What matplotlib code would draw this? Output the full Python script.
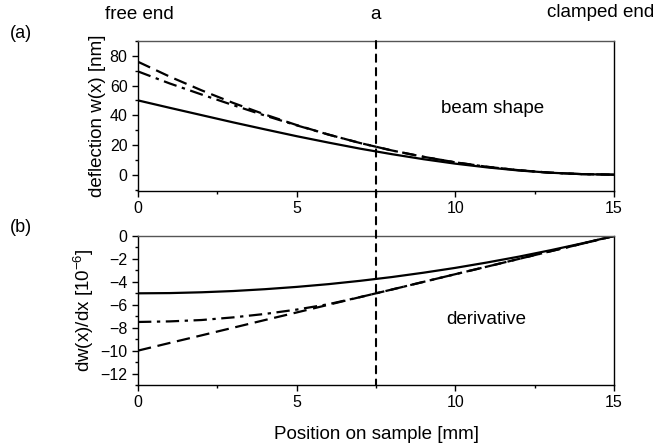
import matplotlib
matplotlib.use("Agg")
import matplotlib.pyplot as plt
from matplotlib.patches import ConnectionPatch
from matplotlib.ticker import MultipleLocator

plt.rcParams['font.family'] = ['Liberation Sans', 'DejaVu Sans']
plt.rcParams['mathtext.default'] = 'regular'

# position on sample [mm]
pos = [0, 1, 2, 3, 4, 5, 6, 7, 8, 9, 10, 11, 12, 13, 14, 15]

# beam shape w(x) [nm]
w_solid = [50, 45.0, 40.1, 35.2, 30.5, 25.9, 21.6, 17.5, 13.8, 10.4, 7.4, 4.9, 2.8, 1.3, 0.35, 0]
w_dash = [76, 66.0, 56.8, 48.3, 40.5, 33.4, 27.0, 21.3, 16.3, 12.0, 8.3, 5.3, 3.0, 1.3, 0.35, 0]
w_dashdot = [69.5, 61.4, 54.0, 46.8, 39.8, 33.2, 27.0, 21.3, 16.3, 12.0, 8.3, 5.3, 3.0, 1.3, 0.35, 0]

# derivative dw/dx [1e-6]
d_solid = [-5.0, -4.98, -4.91, -4.8, -4.64, -4.44, -4.2, -3.91, -3.58, -3.2, -2.78, -2.31, -1.8, -1.24, -0.64, 0]
d_dash = [-10.0, -9.33, -8.67, -8.0, -7.33, -6.67, -6.0, -5.33, -4.67, -4.0, -3.33, -2.67, -2.0, -1.33, -0.67, 0]
d_dashdot = [-7.5, -7.45, -7.33, -7.1, -6.8, -6.42, -5.95, -5.33, -4.67, -4.0, -3.33, -2.67, -2.0, -1.33, -0.67, 0]

a_pos = 7.5

fig = plt.figure(figsize=(6.69, 4.47), dpi=100)
ax1 = fig.add_axes([0.2063, 0.5727, 0.7115, 0.3356])
ax2 = fig.add_axes([0.2063, 0.1387, 0.7115, 0.3333])

ax1.plot(pos, w_solid, color='black', lw=1.6, ls='-')
ax1.plot(pos, w_dash, color='black', lw=1.6, ls=(0, (6, 3)))
ax1.plot(pos, w_dashdot, color='black', lw=1.6, ls=(0, (6, 2.5, 1.5, 2.5)))
ax1.set_xlim(0, 15)
ax1.set_ylim(-11, 90)
ax1.yaxis.set_major_locator(MultipleLocator(20))
ax1.yaxis.set_minor_locator(MultipleLocator(10))
ax1.set_ylabel('deflection w(x) [nm]', fontsize=13.5, labelpad=3)
ax1.text(0.744, 0.553, 'beam shape', transform=ax1.transAxes, ha='center', va='center', fontsize=13.5)

ax2.plot(pos, d_solid, color='black', lw=1.6, ls='-')
ax2.plot(pos, d_dash, color='black', lw=1.6, ls=(0, (6, 3)))
ax2.plot(pos, d_dashdot, color='black', lw=1.6, ls=(0, (6, 2.5, 1.5, 2.5)))
ax2.set_xlim(0, 15)
ax2.set_ylim(-13, 0)
ax2.yaxis.set_major_locator(MultipleLocator(2))
ax2.yaxis.set_minor_locator(MultipleLocator(1))
ax2.set_ylabel('dw(x)/dx [10$^{-6}$]', fontsize=13.5, labelpad=3)
ax2.set_xlabel('Position on sample [mm]', fontsize=13.5, labelpad=11)
ax2.text(0.731, 0.443, 'derivative', transform=ax2.transAxes, ha='center', va='center', fontsize=13.5)

for ax in (ax1, ax2):
    ax.xaxis.set_major_locator(MultipleLocator(5))
    ax.xaxis.set_minor_locator(MultipleLocator(2.5))
    ax.tick_params(which='major', direction='out', length=4, labelsize=11.5, width=1)
    ax.tick_params(which='minor', direction='out', length=2.5, width=1)
    for s in ax.spines.values():
        s.set_linewidth(1)
    ax.spines['top'].set_color('#555555')

# vertical marker at position a, through both panels
con = ConnectionPatch(xyA=(a_pos, 90), coordsA=ax1.transData,
                      xyB=(a_pos, -13), coordsB=ax2.transData,
                      color='black', lw=1.5, ls=(0, (3.5, 3)))
fig.add_artist(con)

fig.text(0.015, 0.915, '(a)', fontsize=13)
fig.text(0.015, 0.48, '(b)', fontsize=13)
fig.text(0.157, 0.958, 'free end', fontsize=13.5)
fig.text(0.561, 0.958, 'a', fontsize=13.5, ha='center')
fig.text(0.817, 0.962, 'clamped end', fontsize=13.5)

fig.savefig('out.png', dpi=100)
